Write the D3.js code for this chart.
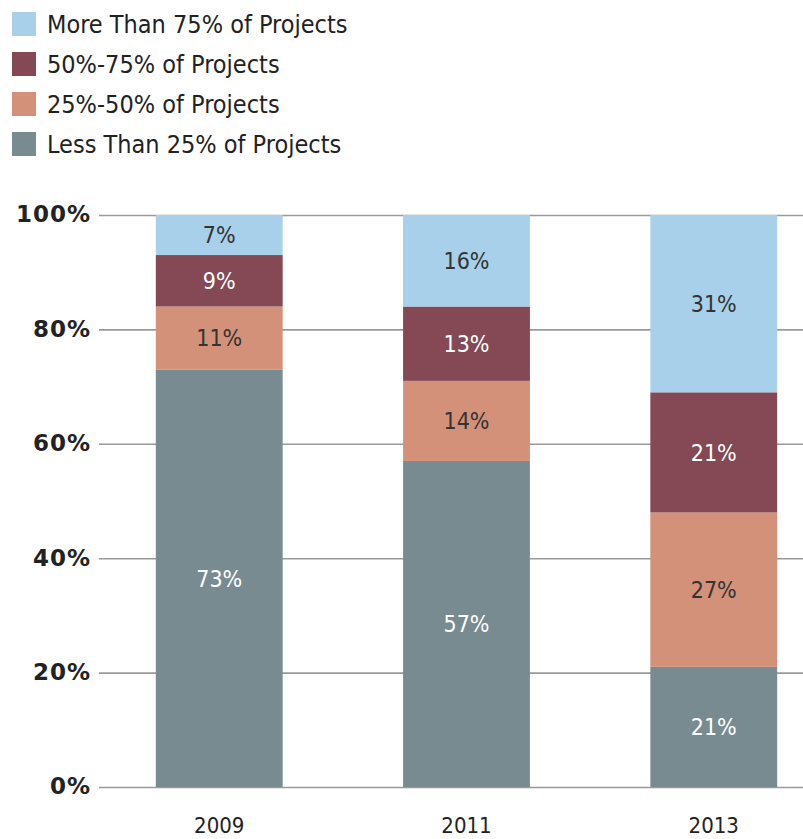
<!DOCTYPE html>
<html lang='en'>
<head>
	<meta charset='UTF-8'/>
	<title>Share of Projects</title>
	<script src='https://cdn.jsdelivr.net/npm/d3@7'></script>
	<style>
		body {margin: 0; background: #fff;}
		svg {display: block;}
		.narrow {font-family: 'Liberation Sans Narrow', 'DejaVu Sans Condensed', sans-serif;}
		.y-axis text {font-family: 'DejaVu Sans', sans-serif; font-weight: bold; letter-spacing: 1px;}
	</style>
</head>
<body>
	<div class='chart'></div>
	<script>
		// data
		const years = ['2009', '2011', '2013'];
		const categories = ['Less Than 25% of Projects', '25%-50% of Projects', '50%-75% of Projects', 'More Than 75% of Projects'];
		const lessThan25 = [73, 57, 21];
		const from25to50 = [11, 14, 27];
		const from50to75 = [9, 13, 21];
		const moreThan75 = [7, 16, 31];
		const yTicks = [0, 20, 40, 60, 80, 100];

		const colours = ['#788b91', '#d4917a', '#844955', '#a8d0ea'];
		const labelColours = ['#fff', '#333', '#fff', '#333'];

		const width = 803, height = 839;
		const margin = {top: 215, right: 0, bottom: 52, left: 99};

		const rows = years.map((yr, i) => ({
			year: yr,
			[categories[0]]: lessThan25[i],
			[categories[1]]: from25to50[i],
			[categories[2]]: from50to75[i],
			[categories[3]]: moreThan75[i]
		}));

		const svg = d3.select('.chart')
			.append('svg')
			.attr('width', width)
			.attr('height', height);

		const x = d3.scaleBand()
			.domain(years)
			.range([94, 839])
			.paddingInner(0.487)
			.paddingOuter(0.25);

		const y = d3.scaleLinear()
			.domain([0, 100])
			.range([height - margin.bottom, margin.top]);

		// gridlines + y labels
		const yAxis = svg.append('g')
			.attr('class', 'y-axis')
			.attr('transform', 'translate(' + margin.left + ',0)')
			.call(d3.axisLeft(y)
				.tickValues(yTicks)
				.tickSize(-(width - margin.left))
				.tickPadding(8)
				.tickFormat(d => d + '%'));
		yAxis.select('.domain').remove();
		yAxis.selectAll('line').attr('stroke', '#9a9a9a').attr('stroke-width', 1.6);
		yAxis.selectAll('text')
			.attr('fill', '#222')
			.style('font-size', '23px')
			.attr('dy', '0.3em');

		// stacked bars
		const series = d3.stack().keys(categories)(rows);

		const layers = svg.append('g')
			.selectAll('g')
			.data(series)
			.join('g')
			.attr('fill', (d, i) => colours[i]);

		layers.selectAll('rect')
			.data(d => d)
			.join('rect')
			.attr('x', d => x(d.data.year))
			.attr('y', d => y(d[1]))
			.attr('width', x.bandwidth())
			.attr('height', d => y(d[0]) - y(d[1]));

		series.forEach((s, i) => {
			svg.append('g')
				.selectAll('text')
				.data(s)
				.join('text')
				.attr('class', 'narrow')
				.attr('x', d => x(d.data.year) + x.bandwidth() / 2)
				.attr('y', d => y((d[0] + d[1]) / 2))
				.attr('dy', '0.36em')
				.attr('text-anchor', 'middle')
				.style('font-size', '23px')
				.attr('fill', labelColours[i])
				.text(d => (d[1] - d[0]) + '%');
		});

		// x labels
		svg.append('g')
			.selectAll('text')
			.data(years)
			.join('text')
			.attr('class', 'narrow')
			.attr('x', d => x(d) + x.bandwidth() / 2)
			.attr('y', 833)
			.attr('text-anchor', 'middle')
			.style('font-size', '22px')
			.attr('fill', '#222')
			.text(d => d);

		// legend, top category first
		const legendOrder = categories.map((c, i) => i).reverse();
		const legend = svg.append('g')
			.selectAll('g')
			.data(legendOrder)
			.join('g')
			.attr('transform', (d, i) => 'translate(12,' + (12 + i * 40) + ')');
		legend.append('rect')
			.attr('width', 24)
			.attr('height', 24)
			.attr('fill', d => colours[d]);
		legend.append('text')
			.attr('class', 'narrow')
			.attr('x', 35)
			.attr('y', 12)
			.attr('dy', '0.36em')
			.style('font-size', '25px')
			.attr('fill', '#222')
			.text(d => categories[d]);
	</script>
</body>
</html>
